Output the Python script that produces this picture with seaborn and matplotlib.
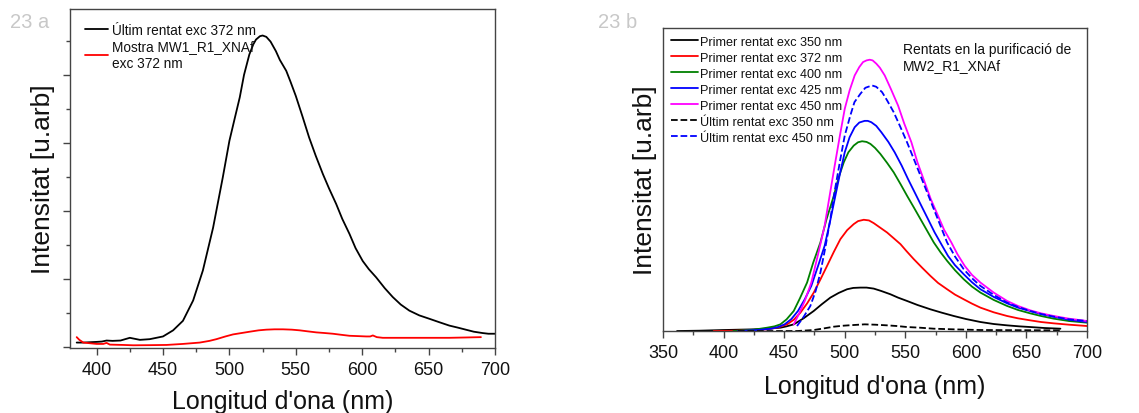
import matplotlib
matplotlib.use("Agg")
import matplotlib.pyplot as plt
from matplotlib.ticker import MultipleLocator, NullLocator, NullFormatter
import seaborn as sns

sns.set_theme(style="white")
plt.rcParams["font.family"] = ["Liberation Sans", "DejaVu Sans"]

# ---------------- Panel a: final wash vs sample, excitation 372 nm ----------------
wl_a_black = [385, 390, 395, 400, 404, 407.5, 412, 418, 425, 432.6, 440, 450, 457.6, 465,
              472.7, 480, 487.7, 495, 500, 504, 507.8, 511, 515, 518, 520, 523, 525,
              527.8, 531, 535, 538, 542.8, 546, 550, 555, 560, 565, 570.4, 575, 580.4,
              585, 590.4, 595, 600.4, 605, 610.5, 617, 623, 629, 635.5, 643, 650.6,
              658, 665.6, 672, 678, 684, 690.7, 695, 700]
int_a_black = [0.06, 0.06, 0.065, 0.07, 0.075, 0.09, 0.085, 0.09, 0.13, 0.10, 0.11, 0.15,
               0.24, 0.38, 0.68, 1.12, 1.75, 2.49, 3.03, 3.36, 3.67, 4.00, 4.30, 4.45,
               4.52, 4.57, 4.58, 4.56, 4.49, 4.35, 4.22, 4.06, 3.90, 3.69, 3.39, 3.08,
               2.81, 2.54, 2.33, 2.10, 1.88, 1.66, 1.45, 1.26, 1.14, 1.02, 0.86, 0.73,
               0.62, 0.53, 0.46, 0.41, 0.36, 0.31, 0.28, 0.25, 0.22, 0.20, 0.19, 0.19]

wl_a_red = [385, 387, 390, 395, 400, 405, 407.5, 410, 420, 427.6, 440, 452.6, 465, 477.7,
            485, 490.2, 497, 502.7, 509, 515.3, 522, 527.8, 534, 540.3, 547, 552.9, 559,
            565.4, 572, 577.9, 584, 590.4, 597, 603, 606, 608, 611, 615.5, 625, 640.6,
            655, 665.6, 678, 689.4]
int_a_red = [0.14, 0.10, 0.06, 0.05, 0.04, 0.04, 0.055, 0.03, 0.025, 0.02, 0.022, 0.025,
             0.04, 0.06, 0.085, 0.11, 0.15, 0.18, 0.20, 0.22, 0.24, 0.25, 0.255, 0.255,
             0.25, 0.24, 0.225, 0.21, 0.20, 0.19, 0.175, 0.16, 0.155, 0.15, 0.15, 0.165,
             0.14, 0.13, 0.13, 0.13, 0.13, 0.13, 0.135, 0.14]

label_a_black = "Últim rentat exc 372 nm"
label_a_red = "Mostra MW1_R1_XNAf\nexc 372 nm"

# ---------------- Panel b: washes during purification of MW2_R1_XNAf ----------------
wl_b350 = [361.6, 380, 400, 412, 424.8, 436, 446.9, 452, 457.9, 466, 474.4, 481, 488.1,
           495, 501.9, 507, 512.9, 518, 523.9, 530, 537.7, 544, 551.4, 560, 570.7, 580,
           590, 600, 612, 623, 634, 644, 653, 665, 678]
int_b350 = [0.0, 0.01, 0.03, 0.04, 0.05, 0.07, 0.10, 0.14, 0.20, 0.38, 0.60, 0.80, 1.00,
            1.14, 1.25, 1.29, 1.30, 1.30, 1.27, 1.20, 1.10, 1.00, 0.90, 0.78, 0.65, 0.55,
            0.45, 0.36, 0.27, 0.21, 0.17, 0.14, 0.12, 0.09, 0.07]

wl_b372 = [391.8, 410, 425, 435.9, 445, 452.4, 458, 463.4, 469, 474.4, 480, 485.4, 491,
           496.4, 502, 507.4, 511, 515.7, 520, 523.9, 529, 534.9, 540, 546, 551, 557, 564,
           570.7, 577, 584.5, 591, 598.2, 605, 612, 623, 634, 643, 653, 662, 672.5, 685, 700]
int_b372 = [0.0, 0.01, 0.03, 0.05, 0.11, 0.20, 0.34, 0.55, 0.83, 1.15, 1.55, 1.95, 2.37,
            2.75, 3.02, 3.20, 3.29, 3.33, 3.31, 3.23, 3.10, 2.95, 2.79, 2.60, 2.39, 2.15,
            1.89, 1.65, 1.44, 1.25, 1.09, 0.95, 0.82, 0.70, 0.56, 0.45, 0.38, 0.32, 0.27,
            0.23, 0.19, 0.15]

wl_b400 = [408, 425, 435.9, 442, 446.9, 452, 457.9, 463, 468.9, 474, 479.9, 485, 491,
           495, 499.2, 503, 507.4, 511, 514.3, 518, 521.2, 525, 529.4, 535, 540.4, 546,
           551.4, 557, 562.5, 568, 573.5, 579, 584.5, 591, 598.2, 605, 612, 623, 634, 643,
           653, 662, 672.5, 685, 700]
int_b400 = [0.0, 0.04, 0.10, 0.14, 0.20, 0.35, 0.60, 0.98, 1.45, 2.05, 2.65, 3.35, 4.05,
            4.60, 5.05, 5.35, 5.55, 5.65, 5.68, 5.66, 5.60, 5.48, 5.30, 5.03, 4.75, 4.40,
            4.05, 3.70, 3.35, 3.00, 2.65, 2.36, 2.10, 1.82, 1.55, 1.33, 1.15, 0.93, 0.75,
            0.63, 0.53, 0.45, 0.37, 0.30, 0.25]

wl_b425 = [411.8, 428, 439.4, 445, 450.4, 456, 461.4, 467, 472.4, 478, 483.4, 488, 491.7,
           496, 500, 504, 508.2, 512, 516.4, 519, 521.9, 526, 530.2, 536, 541.2, 547,
           552.2, 558, 563.2, 569, 574.2, 580, 585.2, 591, 598.2, 605, 612, 623, 634, 643,
           653, 662, 672.5, 685, 700]
int_b425 = [0.0, 0.03, 0.07, 0.12, 0.20, 0.36, 0.60, 0.95, 1.35, 1.95, 2.55, 3.30, 3.95,
            4.70, 5.35, 5.80, 6.10, 6.24, 6.29, 6.29, 6.25, 6.14, 5.95, 5.66, 5.35, 4.95,
            4.55, 4.13, 3.75, 3.33, 2.95, 2.58, 2.25, 1.97, 1.70, 1.46, 1.25, 1.02, 0.83,
            0.70, 0.60, 0.51, 0.43, 0.34, 0.27]

wl_b450 = [457.9, 461.4, 467, 472.4, 478, 483.4, 488, 491.7, 496, 500, 504, 508.2, 512,
           515.1, 518, 520.6, 523, 526.1, 529, 533, 538, 544, 549, 555, 560, 566, 571, 577,
           582, 588, 593, 599, 605, 612, 623, 634, 643, 653, 662, 672.5, 685, 700]
int_b450 = [0.20, 0.45, 0.90, 1.45, 2.30, 3.15, 4.15, 4.95, 5.85, 6.65, 7.20, 7.65, 7.90,
            8.05, 8.10, 8.12, 8.10, 8.00, 7.88, 7.65, 7.25, 6.75, 6.22, 5.65, 5.05, 4.45,
            3.95, 3.45, 3.03, 2.65, 2.30, 1.95, 1.68, 1.45, 1.15, 0.90, 0.75, 0.62, 0.53,
            0.45, 0.37, 0.30]

wl_b350_last = [411.8, 440, 460.6, 474.4, 483, 491, 499, 507.4, 516.4, 525, 534.9, 543,
                551.4, 562, 573.5, 590, 612, 640, 678]
int_b350_last = [0.0, 0.0, 0.0, 0.03, 0.08, 0.13, 0.16, 0.18, 0.20, 0.19, 0.17, 0.15,
                 0.12, 0.10, 0.07, 0.05, 0.03, 0.025, 0.02]

wl_b450_last = [460.6, 466, 471.6, 476, 479.9, 484, 488.1, 492, 496.4, 500, 504.6, 508,
                512.9, 517, 522.5, 526, 530.8, 535, 540.4, 546, 551.4, 557, 562.5, 568,
                573.5, 579, 584.5, 591, 598.2, 605, 612, 623, 634, 643, 653, 662, 672.5,
                685, 700]
int_b450_last = [0.15, 0.42, 0.75, 1.20, 1.75, 2.50, 3.35, 4.25, 5.15, 5.85, 6.45, 6.85,
                 7.10, 7.28, 7.35, 7.31, 7.15, 6.90, 6.55, 6.10, 5.65, 5.15, 4.65, 4.15,
                 3.65, 3.15, 2.65, 2.23, 1.85, 1.58, 1.35, 1.08, 0.85, 0.72, 0.60, 0.51,
                 0.43, 0.35, 0.30]

series_b = [
    ("Primer rentat exc 350 nm", wl_b350, int_b350, "#000000", "-"),
    ("Primer rentat exc 372 nm", wl_b372, int_b372, "#ff0000", "-"),
    ("Primer rentat exc 400 nm", wl_b400, int_b400, "#008000", "-"),
    ("Primer rentat exc 425 nm", wl_b425, int_b425, "#0000ff", "-"),
    ("Primer rentat exc 450 nm", wl_b450, int_b450, "#ff00ff", "-"),
    ("Últim rentat exc 350 nm", wl_b350_last, int_b350_last, "#000000", "--"),
    ("Últim rentat exc 450 nm", wl_b450_last, int_b450_last, "#0000ff", "--"),
]

SPINE = "#444444"
TEXT = "#111111"

fig = plt.figure(figsize=(11.39, 4.14), dpi=100)
ax_a = fig.add_axes([0.0615, 0.157, 0.3731, 0.8188])
ax_b = fig.add_axes([0.5821, 0.198, 0.3723, 0.732])


def style_axis(ax):
    for sp in ax.spines.values():
        sp.set_color(SPINE)
        sp.set_linewidth(1.0)
        sp.set_visible(True)
    ax.tick_params(axis="x", which="both", direction="out", bottom=True, top=False,
                   colors=SPINE, labelcolor=TEXT, labelsize=13, pad=4)
    ax.tick_params(axis="x", which="major", length=5, width=1.0)
    ax.tick_params(axis="x", which="minor", length=3, width=1.0)
    ax.xaxis.set_major_locator(MultipleLocator(50))
    ax.xaxis.set_minor_locator(MultipleLocator(25))
    ax.grid(False)


# Panel a
sns.lineplot(x=wl_a_black, y=int_a_black, ax=ax_a, color="black", lw=1.3,
             label=label_a_black, sort=False, estimator=None)
sns.lineplot(x=wl_a_red, y=int_a_red, ax=ax_a, color="#ff0000", lw=1.3,
             label=label_a_red, sort=False, estimator=None)
ax_a.set_xlim(380, 700)
ax_a.set_ylim(-0.02, 4.97)
style_axis(ax_a)
ax_a.yaxis.set_major_locator(MultipleLocator(1))
ax_a.yaxis.set_minor_locator(MultipleLocator(0.5))
ax_a.yaxis.set_major_formatter(NullFormatter())
ax_a.tick_params(axis="y", which="both", direction="out", left=True, colors=SPINE)
ax_a.tick_params(axis="y", which="major", length=5, width=1.0)
ax_a.tick_params(axis="y", which="minor", length=3, width=1.0)
ax_a.set_xlabel("Longitud d'ona (nm)", fontsize=18, color=TEXT, labelpad=8)
ax_a.set_ylabel("Intensitat [u.arb]", fontsize=19, color=TEXT, labelpad=2)
leg_a = ax_a.legend(loc="upper left", bbox_to_anchor=(0.015, 0.984), frameon=False,
                    fontsize=9.8, handlelength=1.7, handletextpad=0.3,
                    labelspacing=0.2, borderaxespad=0.2)
for t in leg_a.get_texts():
    t.set_color(TEXT)
    t.set_linespacing(1.25)

# Panel b
for name, xs, ys, col, ls in series_b:
    sns.lineplot(x=xs, y=ys, ax=ax_b, color=col, lw=1.3, linestyle=ls,
                 label=name, sort=False, estimator=None)
ax_b.set_xlim(350, 700)
ax_b.set_ylim(0, 9.07)
style_axis(ax_b)
ax_b.yaxis.set_major_locator(NullLocator())
ax_b.yaxis.set_minor_locator(NullLocator())
ax_b.set_xlabel("Longitud d'ona (nm)", fontsize=18, color=TEXT, labelpad=10)
ax_b.set_ylabel("Intensitat [u.arb]", fontsize=19, color=TEXT, labelpad=4)
leg_b = ax_b.legend(loc="upper left", bbox_to_anchor=(0.0, 1.0), frameon=False,
                    fontsize=9.1, handlelength=2.2, handletextpad=0.1,
                    labelspacing=0.32, borderaxespad=0.2)
for t in leg_b.get_texts():
    t.set_color(TEXT)
ax_b.text(0.565, 0.955, "Rentats en la purificació de\nMW2_R1_XNAf",
          transform=ax_b.transAxes, ha="left", va="top", fontsize=10,
          color=TEXT, linespacing=1.2)

# Panel tags
fig.text(10 / 1139, 1 - 22 / 414, "23 a", fontsize=14.5, color="#c8c8c8",
         ha="left", va="center")
fig.text(598 / 1139, 1 - 22 / 414, "23 b", fontsize=14.5, color="#c8c8c8",
         ha="left", va="center")

fig.savefig("out.png", dpi=100)
